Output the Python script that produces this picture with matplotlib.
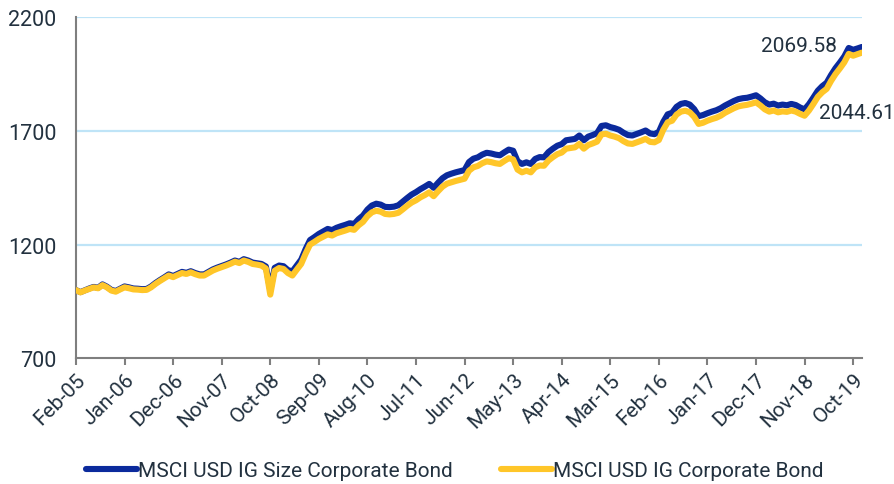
import numpy as np
import pandas as pd
import matplotlib
matplotlib.use("Agg")
import matplotlib.pyplot as plt

plt.rcParams['font.family'] = ['Roboto', 'DejaVu Sans']

dates = pd.date_range('2005-02-01', periods=179, freq='MS')

ig_corp = [
    1000, 990, 998, 1005, 1012, 1008, 1022, 1012, 998, 993,
    1003, 1012, 1008, 1003, 1002, 1000, 1001, 1012, 1027, 1040,
    1052, 1064, 1057, 1066, 1075, 1071, 1078, 1070, 1064, 1064,
    1075, 1086, 1094, 1101, 1108, 1116, 1125, 1119, 1130, 1124,
    1115, 1112, 1108, 1095, 980, 1085, 1097, 1093, 1075, 1064,
    1090, 1115, 1160, 1200, 1212, 1225, 1235, 1245, 1240, 1250,
    1256, 1262, 1269, 1265, 1285, 1300, 1325, 1342, 1349, 1345,
    1335, 1333, 1335, 1340, 1355, 1371, 1385, 1395, 1408, 1418,
    1430, 1413, 1435, 1455, 1468, 1474, 1480, 1485, 1490, 1525,
    1540, 1546, 1558, 1566, 1563, 1558, 1555, 1568, 1580, 1575,
    1530, 1518, 1525, 1518, 1540, 1548, 1547, 1570, 1585, 1598,
    1605, 1622, 1625, 1628, 1643, 1622, 1638, 1645, 1653, 1685,
    1688, 1680, 1675, 1668, 1655, 1645, 1643, 1650, 1657, 1665,
    1652, 1650, 1660, 1705, 1738, 1745, 1772, 1785, 1789, 1782,
    1762, 1731, 1736, 1745, 1752, 1758, 1767, 1780, 1790, 1800,
    1808, 1812, 1815, 1820, 1826, 1812, 1795, 1785, 1790, 1782,
    1786, 1784, 1790, 1785, 1775, 1767, 1790, 1819, 1850, 1870,
    1885, 1920, 1950, 1975, 2002, 2039, 2031, 2038, 2044.61,
]

ig_size = [
    1000, 991, 999, 1007, 1014, 1010, 1025, 1015, 1001, 996,
    1006, 1016, 1012, 1007, 1006, 1004, 1005, 1016, 1031, 1044,
    1056, 1069, 1062, 1071, 1080, 1076, 1083, 1075, 1069, 1069,
    1080, 1091, 1099, 1106, 1113, 1121, 1130, 1124, 1136, 1130,
    1121, 1118, 1115, 1104, 1000, 1098, 1108, 1105, 1088, 1082,
    1108, 1134, 1180, 1220, 1233, 1247, 1258, 1269, 1264, 1274,
    1281, 1287, 1294, 1291, 1312, 1328, 1354, 1372, 1380, 1376,
    1366, 1365, 1367, 1373, 1389, 1405, 1420, 1431, 1444, 1455,
    1467, 1450, 1472, 1492, 1505, 1512, 1518, 1523, 1528, 1563,
    1578, 1584, 1596, 1604, 1601, 1596, 1593, 1606, 1618, 1613,
    1567, 1555, 1562, 1555, 1577, 1585, 1584, 1607, 1622, 1635,
    1642, 1659, 1662, 1665, 1680, 1659, 1675, 1682, 1690, 1722,
    1725, 1717, 1712, 1705, 1692, 1682, 1680, 1687, 1694, 1702,
    1689, 1686, 1696, 1740, 1773, 1780, 1806, 1819, 1823, 1816,
    1796, 1765, 1770, 1778, 1785, 1791, 1800, 1812, 1822, 1832,
    1840, 1844, 1846, 1851, 1857, 1843, 1826, 1816, 1820, 1812,
    1816, 1813, 1819, 1814, 1803, 1795, 1818, 1847, 1877, 1897,
    1912, 1946, 1976, 2001, 2028, 2065, 2057, 2063, 2069.58,
]

tick_labels = ['Feb-05', 'Jan-06', 'Dec-06', 'Nov-07', 'Oct-08', 'Sep-09',
               'Aug-10', 'Jul-11', 'Jun-12', 'May-13', 'Apr-14', 'Mar-15',
               'Feb-16', 'Jan-17', 'Dec-17', 'Nov-18', 'Oct-19']
y_ticks = [700, 1200, 1700, 2200]

series_names = ['MSCI USD IG Size Corporate Bond', 'MSCI USD IG Corporate Bond']
BLUE = '#0B2A9C'
GOLD = '#FFC629'
TXT = '#22313F'

month_labels = [d.strftime('%b-%y') for d in dates]
x = np.arange(len(dates))
tick_pos = [month_labels.index(t) for t in tick_labels]

fig = plt.figure(figsize=(8.95, 4.85), dpi=100)
ax = fig.add_axes([0.0849, 0.2592, 0.9631 - 0.0849, 0.9623 - 0.2592])

l1, = ax.plot(x, ig_size, color=BLUE, lw=4.4, solid_capstyle='round',
              solid_joinstyle='round', label=series_names[0], zorder=3)
l2, = ax.plot(x, ig_corp, color=GOLD, lw=4.4, solid_capstyle='round',
              solid_joinstyle='round', label=series_names[1], zorder=4)

ax.set_xlim(0, len(x) - 1)
ax.set_ylim(700, 2200)
ax.set_yticks(y_ticks)
ax.set_xticks(tick_pos)
ax.set_xticklabels(tick_labels, rotation=45, ha='right', rotation_mode='anchor')

for yv in y_ticks[1:]:
    ax.axhline(yv, color='#BFE4F7', lw=1.6, zorder=1)

for s in ['top', 'right']:
    ax.spines[s].set_visible(False)
for s in ['left', 'bottom']:
    ax.spines[s].set_color('#7F7F7F')
    ax.spines[s].set_linewidth(1.5)

ax.tick_params(axis='y', length=0, labelsize=15.5, labelcolor=TXT, pad=14)
ax.tick_params(axis='x', length=5, width=1.5, color='#7F7F7F',
               labelsize=15, labelcolor=TXT, pad=3)

ax.annotate(f'{ig_size[-1]:.2f}', xy=(x[-1], ig_size[-1]), xytext=(-18, 1),
            textcoords='offset points', ha='right', va='center',
            fontsize=15, color=TXT)
ax.annotate(f'{ig_corp[-1]:.2f}', xy=(x[-1], ig_corp[-1]), xytext=(-31, -43),
            textcoords='offset points', ha='left', va='center',
            fontsize=15, color=TXT, annotation_clip=False)

fig.legend(handles=[l1, l2], labels=series_names, loc='center',
           bbox_to_anchor=(0.508, 0.027), ncol=2, frameon=False,
           fontsize=15, handlelength=2.45, handletextpad=0.05,
           columnspacing=2.3, labelcolor=TXT)

fig.savefig('out.png', dpi=100)
